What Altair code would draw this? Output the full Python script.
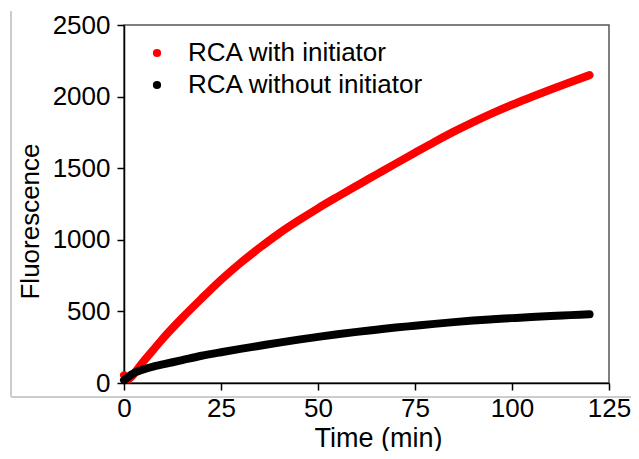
import altair as alt
import pandas as pd

# Data
time_with = [0, 1, 2, 3, 5, 7.5, 10, 15, 20, 25, 30, 35, 40, 45, 50, 55, 60, 65, 70, 75,
             80, 85, 90, 95, 100, 105, 110, 115, 120]
fluor_with = [55, 25, 45, 80, 150, 230, 310, 455, 590, 720, 838, 945, 1045, 1135, 1220,
              1300, 1378, 1455, 1532, 1608, 1683, 1755, 1822, 1885, 1943, 1997, 2050, 2101, 2150]
time_without = [0, 1, 2, 3, 5, 7.5, 10, 15, 20, 25, 30, 35, 40, 45, 50, 55, 60, 65, 70, 75,
                80, 85, 90, 95, 100, 105, 110, 115, 120]
fluor_without = [20, 40, 60, 75, 95, 115, 130, 160, 190, 215, 238, 260, 282, 303, 322, 340,
                 357, 372, 387, 400, 413, 425, 436, 445, 453, 461, 468, 474, 480]
series_names = ["RCA with initiator", "RCA without initiator"]
series_colors = ["#ff0000", "#000000"]
x_ticks = [0, 25, 50, 75, 100, 125]
y_ticks = [0, 500, 1000, 1500, 2000, 2500]

rows = []
for t, v in zip(time_with, fluor_with):
    rows.append({"Time": t, "Fluorescence": v, "Series": series_names[0]})
for t, v in zip(time_without, fluor_without):
    rows.append({"Time": t, "Fluorescence": v, "Series": series_names[1]})
df = pd.DataFrame(rows)

FONT = "Arial, Liberation Sans, sans-serif"
W, H = 485, 358

lines = alt.Chart(df).mark_line(
    strokeWidth=8, strokeCap="round", strokeJoin="round", interpolate="monotone"
).encode(
    x=alt.X("Time:Q", scale=alt.Scale(domain=[0, 125], nice=False),
            axis=alt.Axis(values=x_ticks, format="d", title="Time (min)", grid=False,
                          domainColor="black", domainWidth=1.5, tickColor="black",
                          tickWidth=1.5, tickSize=7, labelFont=FONT, labelFontSize=26,
                          labelColor="black", labelPadding=5, labelFlush=False,
                          titleFont=FONT, titleFontSize=27, titleFontWeight="normal",
                          titleColor="black", titleX=254, titleY=63,
                          titleBaseline="alphabetic")),
    y=alt.Y("Fluorescence:Q", scale=alt.Scale(domain=[0, 2500], nice=False),
            axis=alt.Axis(values=y_ticks, format="d", title="Fluorescence", grid=False,
                          domainColor="black", domainWidth=1.5, tickColor="black",
                          tickWidth=1.5, tickSize=7, labelFont=FONT, labelFontSize=26,
                          labelColor="black", labelPadding=7, labelFlush=False,
                          titleFont=FONT, titleFontSize=26, titleFontWeight="normal",
                          titleColor="black", titleX=-86, titleY=196,
                          titleBaseline="alphabetic")),
    color=alt.Color("Series:N",
                    scale=alt.Scale(domain=series_names, range=series_colors),
                    legend=alt.Legend(orient="none", legendX=20, legendY=15, title=None,
                                      symbolType="circle", symbolSize=18,
                                      symbolStrokeWidth=4, labelFont=FONT,
                                      labelFontSize=26, labelColor="black", labelLimit=0,
                                      labelOffset=18, rowPadding=6, padding=0)),
    order=alt.Order("Time:Q"),
)

# light gray frame of the original figure (decoration)
frame_color = "#cccccc"
frame_left = alt.Chart(df).mark_rule(color=frame_color, strokeWidth=1).encode(
    x=alt.value(-113), y=alt.value(-14), y2=alt.value(372))
frame_right = alt.Chart(df).mark_rule(color=frame_color, strokeWidth=1).encode(
    x=alt.value(511), y=alt.value(-14), y2=alt.value(372))
frame_bottom = alt.Chart(df).mark_rule(color=frame_color, strokeWidth=1).encode(
    x=alt.value(-113), x2=alt.value(511), y=alt.value(372))

chart = alt.layer(frame_left, frame_right, frame_bottom, lines).properties(
    width=W, height=H,
    background="white",
    autosize=alt.AutoSizeParams(type="none"),
    padding={"left": 116, "top": 17, "right": 22, "bottom": 68},
).configure_view(
    stroke="#555555", strokeWidth=1.5
)

chart.save("out.html", embed_options={"renderer": "svg", "actions": False})
